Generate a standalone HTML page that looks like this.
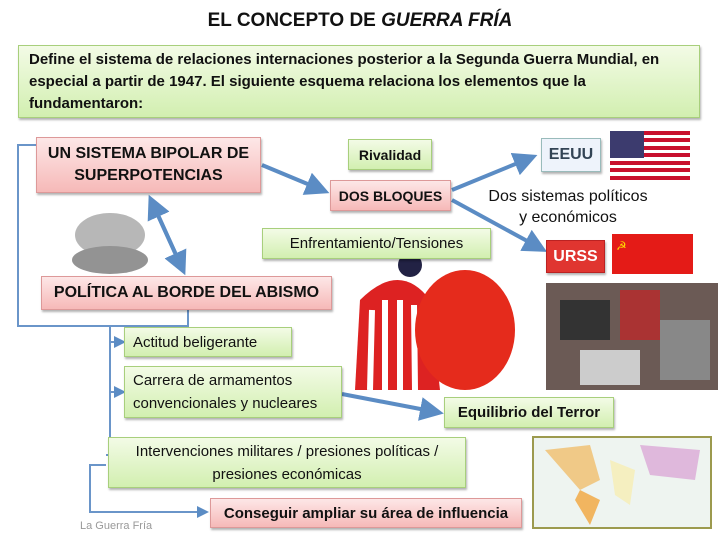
<!DOCTYPE html>
<html><head><meta charset="utf-8"><style>
body{margin:0;width:720px;height:540px;background:#fff;position:relative;overflow:hidden;font-family:"Liberation Sans",sans-serif}
.b{position:absolute;box-sizing:border-box;display:flex;align-items:center;justify-content:center;text-align:center;color:#111;box-shadow:1px 2px 2px rgba(0,0,0,.3)}
.g{background:linear-gradient(#f3fbe6,#d2efb0);border:1px solid #a8cf7c}
.p{background:linear-gradient(#fde7e7,#f6b9b8);border:1px solid #d99;font-weight:bold}
.t{position:absolute;color:#111}
</style></head><body>
<div class="t" style="left:0;width:720px;top:10px;text-align:center;font-size:19px;font-weight:bold">EL CONCEPTO DE <i>GUERRA FRÍA</i></div>
<div class="b g" style="left:18px;top:45px;width:682px;height:73px;justify-content:flex-start;text-align:left;padding:0 10px;font-size:15px;font-weight:bold;line-height:22px">Define el sistema de relaciones internaciones posterior a la Segunda Guerra Mundial, en especial a partir de 1947. El siguiente esquema relaciona los elementos que la fundamentaron:</div>
<svg style="position:absolute;left:0;top:0" width="720" height="540">
<defs><marker id="a" markerWidth="6" markerHeight="6" refX="4" refY="3" orient="auto"><path d="M0,0L6,3L0,6z" fill="#5b8cc4"/></marker></defs>
<g stroke="#6a95c9" stroke-width="2" fill="none">
<path d="M36,145H18V326H188V305"/>
<path d="M110,326V455" /><path d="M110,342H122" marker-end="url(#a)"/><path d="M110,392H122" marker-end="url(#a)"/><path d="M110,455H106"/>
<path d="M106,465H90V512H205" marker-end="url(#a)"/>
</g>
<g stroke="#5b8cc4" stroke-width="4" fill="none">
<path d="M262,165L322,190" marker-end="url(#a)" stroke-width="4"/>
<path d="M452,190L530,158" marker-end="url(#a)"/>
<path d="M452,200L540,248" marker-end="url(#a)"/>
<path d="M152,202L182,268" marker-end="url(#a)"/><path d="M182,268L152,202" marker-end="url(#a)"/>
<path d="M342,394L436,412" marker-end="url(#a)"/>
</g>
<rect x="610" y="131" width="80" height="49" fill="#fff"/>
<g fill="#c8102e"><rect x="610" y="131" width="80" height="4"/><rect x="610" y="138" width="80" height="4"/><rect x="610" y="146" width="80" height="4"/><rect x="610" y="153" width="80" height="4"/><rect x="610" y="161" width="80" height="4"/><rect x="610" y="168" width="80" height="4"/><rect x="610" y="176" width="80" height="4"/></g>
<rect x="610" y="131" width="34" height="27" fill="#3c3b6e"/>
<rect x="612" y="234" width="81" height="40" fill="#e41b17"/><text x="616" y="250" fill="#ffd700" font-size="12">☭</text>
<g opacity=".7"><ellipse cx="110" cy="235" rx="35" ry="22" fill="#999"/><ellipse cx="110" cy="260" rx="38" ry="14" fill="#666"/></g>
<path d="M355,390L360,300Q400,260 430,300L440,390z" fill="#d22"/><path d="M370,390L372,310M385,390L385,300M400,390L400,300M415,390L414,305" stroke="#fff" stroke-width="6"/>
<ellipse cx="465" cy="330" rx="50" ry="60" fill="#e52b1c"/><circle cx="410" cy="265" r="12" fill="#224"/>
<rect x="546" y="283" width="172" height="107" fill="#6b5a55"/><rect x="546" y="283" width="172" height="107" fill="url(#none)" opacity=".4"/>
<rect x="560" y="300" width="50" height="40" fill="#333"/><rect x="620" y="290" width="40" height="50" fill="#a33"/><rect x="660" y="320" width="50" height="60" fill="#888"/><rect x="580" y="350" width="60" height="35" fill="#ccc"/>
<rect x="533" y="437" width="178" height="91" fill="#eef4f0" stroke="#9c9a4e" stroke-width="2"/>
<path d="M545,450L590,445L600,480L580,490z" fill="#f0c987"/><path d="M580,490L600,500L590,525L575,500z" fill="#f1b560"/><path d="M640,445L700,450L695,480L650,475z" fill="#dfb8dc"/><path d="M610,460L635,470L630,505L615,495z" fill="#f5efc0"/>
</svg>
<div class="b p" style="left:36px;top:137px;width:225px;height:56px;font-size:16px;line-height:22px">UN SISTEMA BIPOLAR DE<br>SUPERPOTENCIAS</div>
<div class="b g" style="left:348px;top:139px;width:84px;height:31px;font-size:14px;font-weight:bold">Rivalidad</div>
<div class="b p" style="left:330px;top:180px;width:121px;height:31px;font-size:14px">DOS BLOQUES</div>
<div class="b" style="left:541px;top:138px;width:60px;height:34px;background:#eef3fb;border:1px solid #9bb;font-weight:bold;font-size:16px;color:#345">EEUU</div>
<div class="b" style="left:546px;top:240px;width:59px;height:33px;background:#e03530;border:1px solid #b22;font-weight:bold;font-size:16px;color:#fff">URSS</div>
<div class="t" style="left:480px;width:176px;top:186px;text-align:center;font-size:16px;line-height:21px">Dos sistemas políticos<br>y económicos</div>
<div class="b g" style="left:262px;top:228px;width:229px;height:31px;font-size:15px">Enfrentamiento/Tensiones</div>
<div class="b p" style="left:41px;top:276px;width:291px;height:34px;font-size:16px">POLÍTICA AL BORDE DEL ABISMO</div>
<div class="b g" style="left:124px;top:327px;width:168px;height:30px;font-size:15px;justify-content:flex-start;padding-left:8px">Actitud beligerante</div>
<div class="b g" style="left:124px;top:366px;width:218px;height:52px;font-size:15px;line-height:23px;justify-content:flex-start;text-align:left;padding-left:8px">Carrera de armamentos<br>convencionales y nucleares</div>
<div class="b g" style="left:444px;top:397px;width:170px;height:31px;font-size:15px;font-weight:bold">Equilibrio del Terror</div>
<div class="b g" style="left:108px;top:437px;width:358px;height:51px;font-size:15px;line-height:23px">Intervenciones militares / presiones políticas /<br>presiones económicas</div>
<div class="b p" style="left:210px;top:498px;width:312px;height:30px;font-size:15px">Conseguir ampliar su área de influencia</div>
<div class="t" style="left:80px;top:520px;font-size:11px;color:#999">La Guerra Fría</div>
</body></html>
